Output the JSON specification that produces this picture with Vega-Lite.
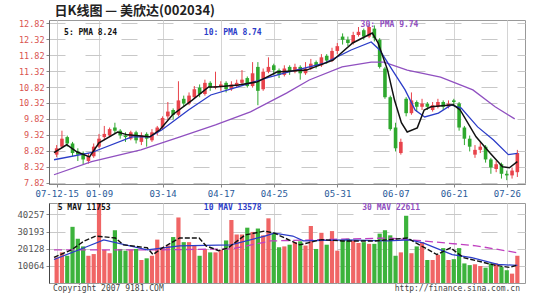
{
"$schema": "https://vega.github.io/schema/vega-lite/v6.json",
"background": "white",
"padding": {"left": 4, "top": 4, "right": 12, "bottom": 0},
"title": {"text": "日K线图 — 美欣达(002034)", "anchor": "start", "dx": 50, "fontSize": 13, "font": "Noto Sans CJK SC", "fontWeight": "bold", "color": "#222", "offset": 1},
"config": {"view": {"stroke": "#999"}, "axis": {"labelFont": "DejaVu Sans Mono", "labelFontSize": 9, "title": null}, "axisY": {"minExtent": 44, "maxExtent": 44}, "axisX": {"minExtent": 0, "maxExtent": 14}},
"spacing": 3,
"datasets": {
"k": [
{"i":0,"o":8.70,"h":9.00,"l":8.62,"c":8.90,"v":15000},
{"i":1,"o":8.95,"h":9.45,"l":8.90,"c":9.20,"v":18000},
{"i":2,"o":9.25,"h":9.30,"l":8.95,"c":9.05,"v":16000},
{"i":3,"o":9.05,"h":9.10,"l":8.65,"c":8.75,"v":33000},
{"i":4,"o":8.80,"h":8.90,"l":8.50,"c":8.70,"v":26000},
{"i":5,"o":8.75,"h":8.80,"l":8.40,"c":8.55,"v":21500},
{"i":6,"o":8.50,"h":8.75,"l":8.42,"c":8.65,"v":16000},
{"i":7,"o":8.65,"h":9.05,"l":8.60,"c":8.95,"v":17000},
{"i":8,"o":8.95,"h":9.35,"l":8.90,"c":9.20,"v":46900},
{"i":9,"o":9.25,"h":9.60,"l":9.15,"c":9.35,"v":19500},
{"i":10,"o":9.30,"h":9.55,"l":9.25,"c":9.50,"v":17500},
{"i":11,"o":9.55,"h":9.70,"l":9.35,"c":9.45,"v":31000},
{"i":12,"o":9.45,"h":9.50,"l":9.20,"c":9.30,"v":20000},
{"i":13,"o":9.30,"h":9.40,"l":9.10,"c":9.25,"v":19000},
{"i":14,"o":9.20,"h":9.45,"l":9.15,"c":9.40,"v":19500},
{"i":15,"o":9.40,"h":9.45,"l":9.05,"c":9.15,"v":20000},
{"i":16,"o":9.10,"h":9.40,"l":9.00,"c":9.30,"v":13500},
{"i":17,"o":9.35,"h":9.40,"l":8.95,"c":9.20,"v":14500},
{"i":18,"o":9.15,"h":9.50,"l":9.10,"c":9.40,"v":16000},
{"i":19,"o":9.40,"h":9.60,"l":9.30,"c":9.55,"v":25500},
{"i":20,"o":9.55,"h":9.90,"l":9.50,"c":9.85,"v":21000},
{"i":21,"o":9.90,"h":10.35,"l":9.80,"c":10.05,"v":22000},
{"i":22,"o":10.10,"h":10.15,"l":9.80,"c":9.95,"v":27000},
{"i":23,"o":9.95,"h":11.00,"l":9.90,"c":10.40,"v":38500},
{"i":24,"o":10.45,"h":10.55,"l":10.20,"c":10.30,"v":24000},
{"i":25,"o":10.30,"h":10.65,"l":10.25,"c":10.55,"v":24000},
{"i":26,"o":10.50,"h":10.85,"l":10.45,"c":10.75,"v":22000},
{"i":27,"o":10.80,"h":10.90,"l":10.50,"c":10.60,"v":16000},
{"i":28,"o":10.60,"h":11.05,"l":10.55,"c":10.95,"v":20000},
{"i":29,"o":10.95,"h":11.00,"l":10.70,"c":10.80,"v":18000},
{"i":30,"o":10.80,"h":11.30,"l":10.75,"c":10.85,"v":18000},
{"i":31,"o":10.85,"h":11.00,"l":10.70,"c":10.90,"v":19500},
{"i":32,"o":10.95,"h":11.00,"l":10.65,"c":10.75,"v":25000},
{"i":33,"o":10.75,"h":11.00,"l":10.70,"c":10.90,"v":37000},
{"i":34,"o":10.85,"h":11.05,"l":10.80,"c":10.95,"v":28500},
{"i":35,"o":10.95,"h":11.35,"l":10.90,"c":11.05,"v":28500},
{"i":36,"o":11.10,"h":11.15,"l":10.80,"c":10.85,"v":32500},
{"i":37,"o":10.85,"h":11.60,"l":10.80,"c":11.25,"v":30000},
{"i":38,"o":11.45,"h":11.60,"l":10.25,"c":10.70,"v":32000},
{"i":39,"o":10.75,"h":11.40,"l":10.70,"c":11.30,"v":28000},
{"i":40,"o":11.30,"h":11.75,"l":11.25,"c":11.45,"v":38000},
{"i":41,"o":11.50,"h":11.55,"l":11.20,"c":11.35,"v":29500},
{"i":42,"o":11.35,"h":11.40,"l":11.10,"c":11.20,"v":21000},
{"i":43,"o":11.20,"h":11.50,"l":11.15,"c":11.40,"v":21500},
{"i":44,"o":11.45,"h":11.50,"l":11.20,"c":11.30,"v":22500},
{"i":45,"o":11.30,"h":11.55,"l":11.25,"c":11.45,"v":24000},
{"i":46,"o":11.45,"h":11.50,"l":11.05,"c":11.25,"v":24500},
{"i":47,"o":11.25,"h":11.60,"l":11.20,"c":11.40,"v":22000},
{"i":48,"o":11.40,"h":11.70,"l":11.35,"c":11.55,"v":33500},
{"i":49,"o":11.60,"h":11.65,"l":11.40,"c":11.50,"v":20000},
{"i":50,"o":11.50,"h":11.85,"l":11.45,"c":11.75,"v":29500},
{"i":51,"o":11.80,"h":11.85,"l":11.55,"c":11.65,"v":22500},
{"i":52,"o":11.65,"h":12.05,"l":11.60,"c":11.95,"v":30500},
{"i":53,"o":11.95,"h":12.20,"l":11.85,"c":12.10,"v":19000},
{"i":54,"o":12.40,"h":12.50,"l":12.15,"c":12.30,"v":25000},
{"i":55,"o":12.30,"h":12.40,"l":12.10,"c":12.20,"v":26000},
{"i":56,"o":12.20,"h":12.55,"l":12.15,"c":12.45,"v":25000},
{"i":57,"o":12.45,"h":12.70,"l":12.40,"c":12.55,"v":23500},
{"i":58,"o":12.60,"h":12.65,"l":12.30,"c":12.40,"v":24000},
{"i":59,"o":12.40,"h":12.80,"l":12.35,"c":12.70,"v":23000},
{"i":60,"o":12.65,"h":12.75,"l":12.25,"c":12.35,"v":23000},
{"i":61,"o":12.30,"h":12.35,"l":11.40,"c":11.45,"v":29000},
{"i":62,"o":11.40,"h":11.45,"l":10.45,"c":10.50,"v":31000},
{"i":63,"o":10.50,"h":10.55,"l":9.45,"c":9.50,"v":28000},
{"i":64,"o":9.55,"h":9.70,"l":8.80,"c":8.90,"v":16000},
{"i":65,"o":8.75,"h":9.20,"l":8.70,"c":9.10,"v":18000},
{"i":66,"o":10.45,"h":10.50,"l":9.90,"c":10.00,"v":39500},
{"i":67,"o":10.00,"h":10.65,"l":9.95,"c":10.40,"v":17500},
{"i":68,"o":10.35,"h":10.40,"l":10.05,"c":10.20,"v":21500},
{"i":69,"o":10.20,"h":10.45,"l":10.10,"c":10.30,"v":24000},
{"i":70,"o":10.30,"h":10.35,"l":10.10,"c":10.20,"v":13500},
{"i":71,"o":10.10,"h":10.35,"l":10.05,"c":10.25,"v":13500},
{"i":72,"o":10.20,"h":10.45,"l":10.15,"c":10.35,"v":16500},
{"i":73,"o":10.35,"h":10.40,"l":10.10,"c":10.20,"v":20500},
{"i":74,"o":10.20,"h":10.40,"l":10.15,"c":10.30,"v":13500},
{"i":75,"o":10.40,"h":10.45,"l":10.25,"c":10.35,"v":14000},
{"i":76,"o":10.30,"h":10.35,"l":9.45,"c":9.55,"v":20500},
{"i":77,"o":9.55,"h":9.60,"l":9.00,"c":9.20,"v":11500},
{"i":78,"o":9.20,"h":9.30,"l":8.80,"c":8.95,"v":10500},
{"i":79,"o":8.70,"h":9.00,"l":8.60,"c":8.85,"v":11000},
{"i":80,"o":8.85,"h":9.10,"l":8.75,"c":8.95,"v":10000},
{"i":81,"o":8.95,"h":9.00,"l":8.45,"c":8.55,"v":9000},
{"i":82,"o":8.55,"h":8.60,"l":8.10,"c":8.30,"v":11500},
{"i":83,"o":8.25,"h":8.50,"l":8.15,"c":8.40,"v":11500},
{"i":84,"o":8.40,"h":8.45,"l":7.95,"c":8.10,"v":9500},
{"i":85,"o":8.10,"h":8.20,"l":7.90,"c":8.05,"v":7500},
{"i":86,"o":8.05,"h":8.30,"l":7.95,"c":8.20,"v":5500},
{"i":87,"o":8.15,"h":8.85,"l":8.00,"c":8.75,"v":16000}
],
"ma5": [
{"i":-0.5,"p":8.76},{"i":1.9,"p":9.01},{"i":3.8,"p":8.79},{"i":6.2,"p":8.63},{"i":8,"p":9.07},{"i":11.5,"p":9.41},{"i":13.4,"p":9.32},{"i":17.6,"p":9.26},{"i":19.5,"p":9.48},{"i":21.9,"p":9.95},{"i":25.6,"p":10.41},{"i":28.7,"p":10.82},{"i":30,"p":10.82},{"i":34.3,"p":10.88},{"i":37.9,"p":10.98},{"i":41.6,"p":11.29},{"i":47.2,"p":11.35},{"i":52.2,"p":11.66},{"i":55.9,"p":12.2},{"i":59.6,"p":12.51},{"i":60.7,"p":12.2},{"i":62.5,"p":11.35},{"i":63.8,"p":10.41},{"i":65.1,"p":9.7},{"i":66.2,"p":9.41},{"i":68.1,"p":9.54},{"i":69.4,"p":10.1},{"i":70.7,"p":10.2},{"i":74.9,"p":10.26},{"i":76.2,"p":10.1},{"i":79.2,"p":9.26},{"i":81.8,"p":8.76},{"i":84.2,"p":8.32},{"i":85.5,"p":8.29},{"i":87,"p":8.48}
],
"ma10": [
{"i":-0.5,"p":8.54},{"i":6.5,"p":8.76},{"i":14.2,"p":9.26},{"i":17.6,"p":9.26},{"i":19.9,"p":9.48},{"i":24.9,"p":10.1},{"i":29.1,"p":10.57},{"i":34.1,"p":10.82},{"i":40.2,"p":11.13},{"i":43.3,"p":11.27},{"i":50.6,"p":11.57},{"i":55.6,"p":11.98},{"i":59.4,"p":12.23},{"i":61.0,"p":11.98},{"i":63.4,"p":11.35},{"i":65.8,"p":10.73},{"i":67.7,"p":10.1},{"i":69.5,"p":9.88},{"i":72.1,"p":10.0},{"i":74.5,"p":10.26},{"i":76.4,"p":10.16},{"i":79.5,"p":9.57},{"i":82.5,"p":9.16},{"i":85.3,"p":8.7},{"i":87,"p":8.74}
],
"ma30": [
{"i":-0.5,"p":8.07},{"i":6.6,"p":8.48},{"i":15.9,"p":8.85},{"i":23.3,"p":9.26},{"i":30.0,"p":9.63},{"i":36.6,"p":10.04},{"i":43.4,"p":10.63},{"i":47.7,"p":11.04},{"i":53.9,"p":11.45},{"i":59.4,"p":11.6},{"i":61.8,"p":11.6},{"i":66.2,"p":11.35},{"i":72.5,"p":11.13},{"i":78.6,"p":10.73},{"i":82.8,"p":10.2},{"i":86.5,"p":9.82}
],
"vma5": [
{"i":-0.5,"v":15000},{"i":2.8,"v":19500},{"i":5.2,"v":24700},{"i":7.4,"v":27600},{"i":11.1,"v":26450},{"i":12.6,"v":22400},{"i":17.1,"v":20700},{"i":18.2,"v":16700},{"i":20,"v":20700},{"i":23.2,"v":26450},{"i":26.9,"v":26450},{"i":28.2,"v":21850},{"i":30.6,"v":19000},{"i":32.4,"v":20700},{"i":35.6,"v":28200},{"i":39.3,"v":30500},{"i":41.1,"v":29300},{"i":45.9,"v":22400},{"i":50,"v":25500},{"i":54,"v":24700},{"i":60.1,"v":24700},{"i":66.2,"v":26450},{"i":71.8,"v":16700},{"i":74.4,"v":20700},{"i":76.8,"v":14950},{"i":82.9,"v":10350},{"i":85.5,"v":9200},{"i":87,"v":10500}
],
"vma10": [
{"i":-0.5,"v":13800},{"i":5.2,"v":20700},{"i":8.9,"v":25300},{"i":17.1,"v":19500},{"i":23.2,"v":21850},{"i":32.9,"v":22400},{"i":39.3,"v":27600},{"i":41.1,"v":29300},{"i":44.6,"v":27600},{"i":46.6,"v":24700},{"i":54.6,"v":25300},{"i":62.5,"v":24700},{"i":66.6,"v":25300},{"i":69.2,"v":23600},{"i":74.7,"v":16700},{"i":78.4,"v":14950},{"i":83.3,"v":10900},{"i":87,"v":10350}
],
"vma30": [
{"i":-0.5,"v":19500},{"i":20,"v":19500},{"i":33,"v":20000},{"i":40.4,"v":24700},{"i":62.5,"v":26450},{"i":69.4,"v":24700},{"i":79.2,"v":21850},{"i":87,"v":17800}
],
"one": [{"n": 1}]
},
"vconcat": [
{
"width": 476, "height": 164,
"layer": [
{"data": {"name": "k"}, "mark": {"type": "rule", "strokeWidth": 1},
 "encoding": {
  "x": {"field": "i", "type": "quantitative", "scale": {"domain": [-0.5, 87.5], "nice": false, "zero": false},
        "axis": {"values": [0,8,20,31,41,53,64,75,85], "tickCount": 20, "labelExpr": "['07-12-15','01-09','03-14','04-17','04-25','05-31','06-07','06-21','07-26'][indexof([0,8,20,31,41,53,64,75,85], datum.value)]", "labelColor": "#2a5a9a", "tickSize": 3, "tickColor": "#888", "labelPadding": 2, "grid": true, "gridColor": "#d4d4d4", "domainColor": "#888", "labelFlush": false, "labelOverlap": false}},
  "y": {"field": "l", "type": "quantitative", "scale": {"domain": [7.78, 12.92], "nice": false, "zero": false},
        "axis": {"values": [7.82,8.32,8.82,9.32,9.82,10.32,10.82,11.32,11.82,12.32,12.82], "tickCount": 20, "format": ".2f", "labelColor": "#d9534f", "labelOverlap": false, "labelFontSize": 8.5, "tickSize": 3, "tickColor": "#888", "grid": true, "gridDash": [16, 20], "gridColor": "#c8c8c8", "domainColor": "#666"}},
  "y2": {"field": "h"},
  "color": {"condition": {"test": "datum.c >= datum.o", "value": "#e8434b"}, "value": "#2ea82e"}
 }},
{"data": {"name": "k"}, "mark": {"type": "bar", "size": 3.6},
 "encoding": {
  "x": {"field": "i", "type": "quantitative"},
  "y": {"field": "o", "type": "quantitative"},
  "y2": {"field": "c"},
  "color": {"condition": {"test": "datum.c >= datum.o", "value": "#e8434b"}, "value": "#2ea82e"}
 }},
{"data": {"name": "ma30"}, "mark": {"type": "line", "color": "#9050c0", "strokeWidth": 1.3},
 "encoding": {"x": {"field": "i", "type": "quantitative"}, "y": {"field": "p", "type": "quantitative"}}},
{"data": {"name": "ma10"}, "mark": {"type": "line", "color": "#2b3cc8", "strokeWidth": 1.3},
 "encoding": {"x": {"field": "i", "type": "quantitative"}, "y": {"field": "p", "type": "quantitative"}}},
{"data": {"name": "ma5"}, "mark": {"type": "line", "color": "#111111", "strokeWidth": 1.5},
 "encoding": {"x": {"field": "i", "type": "quantitative"}, "y": {"field": "p", "type": "quantitative"}}},
{"data": {"name": "one"}, "mark": {"type": "text", "align": "left", "baseline": "middle", "font": "DejaVu Sans Mono", "fontSize": 8, "fontWeight": "bold", "color": "#111"},
 "encoding": {"x": {"datum": 1.4}, "y": {"datum": 12.5}, "text": {"value": "5: PMA 8.24"}}},
{"data": {"name": "one"}, "mark": {"type": "text", "align": "left", "baseline": "middle", "font": "DejaVu Sans Mono", "fontSize": 8, "fontWeight": "bold", "color": "#2b3cc8"},
 "encoding": {"x": {"datum": 27.8}, "y": {"datum": 12.5}, "text": {"value": "10: PMA 8.74"}}},
{"data": {"name": "one"}, "mark": {"type": "text", "align": "left", "baseline": "middle", "font": "DejaVu Sans Mono", "fontSize": 8, "fontWeight": "bold", "color": "#9050c0"},
 "encoding": {"x": {"datum": 57.4}, "y": {"datum": 12.76}, "text": {"value": "30: PMA 9.74"}}}
]
},
{
"width": 476, "height": 80,
"layer": [
{"data": {"name": "k"}, "mark": {"type": "bar", "size": 4.2},
 "encoding": {
  "x": {"field": "i", "type": "quantitative", "scale": {"domain": [-0.5, 87.5], "nice": false, "zero": false},
        "axis": {"values": [0,8,20,31,41,53,64,75,85], "tickCount": 20, "labels": false, "ticks": false, "domain": false, "grid": true, "gridColor": "#d4d4d4", "maxExtent": 0}},
  "y": {"field": "v", "type": "quantitative", "scale": {"domain": [0, 47000], "nice": false},
        "axis": {"values": [10064, 20128, 30193, 40257], "tickCount": 10, "format": "d", "labelColor": "#555", "labelOverlap": false, "tickSize": 3, "tickColor": "#888", "grid": true, "gridDash": [16, 20], "gridColor": "#c8c8c8", "domainColor": "#444"}},
  "color": {"condition": {"test": "datum.c >= datum.o", "value": "#f06565"}, "value": "#3cb33c"}
 }},
{"data": {"name": "vma30"}, "mark": {"type": "line", "color": "#c040c0", "strokeWidth": 1.3, "strokeDash": [8, 4]},
 "encoding": {"x": {"field": "i", "type": "quantitative"}, "y": {"field": "v", "type": "quantitative"}}},
{"data": {"name": "vma10"}, "mark": {"type": "line", "color": "#2b3cc8", "strokeWidth": 1.3},
 "encoding": {"x": {"field": "i", "type": "quantitative"}, "y": {"field": "v", "type": "quantitative"}}},
{"data": {"name": "vma5"}, "mark": {"type": "line", "color": "#111111", "strokeWidth": 1.4, "strokeDash": [5, 2]},
 "encoding": {"x": {"field": "i", "type": "quantitative"}, "y": {"field": "v", "type": "quantitative"}}},
{"data": {"name": "one"}, "mark": {"type": "text", "align": "left", "baseline": "middle", "font": "DejaVu Sans Mono", "fontSize": 8, "fontWeight": "bold", "color": "#111"},
 "encoding": {"x": {"datum": 0.2}, "y": {"datum": 44300}, "text": {"value": "5 MAV 11753"}}},
{"data": {"name": "one"}, "mark": {"type": "text", "align": "left", "baseline": "middle", "font": "DejaVu Sans Mono", "fontSize": 8, "fontWeight": "bold", "color": "#2b3cc8"},
 "encoding": {"x": {"datum": 27.8}, "y": {"datum": 44300}, "text": {"value": "10 MAV 13578"}}},
{"data": {"name": "one"}, "mark": {"type": "text", "align": "left", "baseline": "middle", "font": "DejaVu Sans Mono", "fontSize": 8, "fontWeight": "bold", "color": "#9050c0"},
 "encoding": {"x": {"datum": 57.7}, "y": {"datum": 44300}, "text": {"value": "30 MAV 22611"}}},
{"data": {"name": "one"}, "mark": {"type": "text", "align": "left", "baseline": "middle", "font": "DejaVu Sans Mono", "fontSize": 8, "color": "#444"},
 "encoding": {"x": {"datum": -0.7}, "y": {"datum": -3300}, "text": {"value": "Copyright 2007 9181.COM"}}},
{"data": {"name": "one"}, "mark": {"type": "text", "align": "right", "baseline": "middle", "font": "DejaVu Sans Mono", "fontSize": 8, "color": "#444"},
 "encoding": {"x": {"datum": 87.5}, "y": {"datum": -3300}, "text": {"value": "http://finance.sina.com.cn"}}}
]
}
]
}
